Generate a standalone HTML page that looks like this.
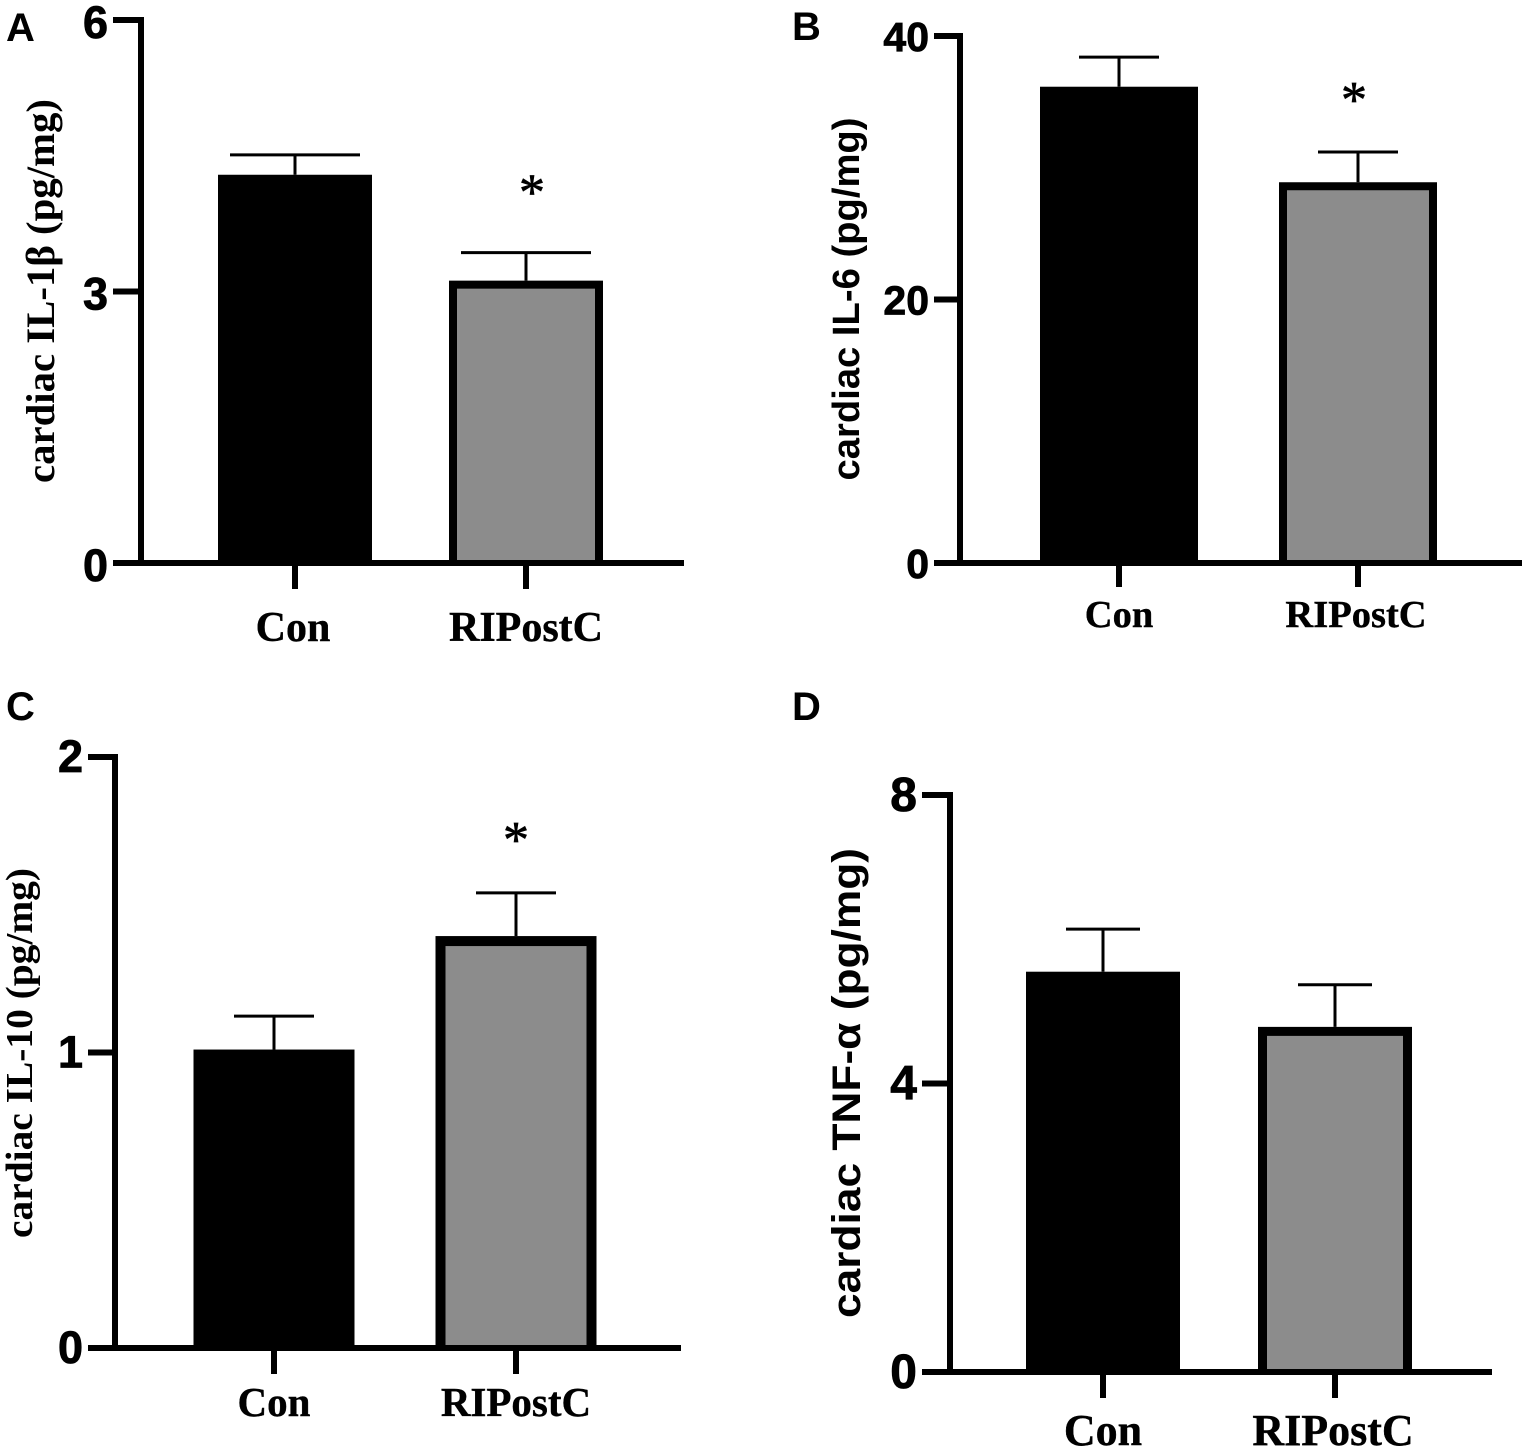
<!DOCTYPE html>
<html lang="en">
<head>
<meta charset="utf-8">
<title>Cardiac cytokine bar charts</title>
<style>
html,body{margin:0;padding:0;background:#fff;}
svg{display:block;}
.serif{font-family:"Liberation Serif",serif;font-weight:bold;}
.sans{font-family:"Liberation Sans",sans-serif;font-weight:bold;}
.heavy{stroke:#000;stroke-width:0.8px;}
.semi{stroke:#000;stroke-width:0.4px;}
.star{font-family:"Liberation Serif",serif;stroke:#000;stroke-width:0.7px;}
</style>
</head>
<body>
<svg id="figure" xmlns="http://www.w3.org/2000/svg" width="1525" height="1450" viewBox="0 0 1525 1450"></svg>
<script>
const categories = ['Con', 'RIPostC'];

const il1bMeans = [4.29, 3.12];
const il1bErrors = [0.22, 0.31];
const il1bTicks = [0, 3, 6];

const il6Means = [36.15, 28.9];
const il6Errors = [2.25, 2.3];
const il6Ticks = [0, 20, 40];

const il10Means = [1.01, 1.394];
const il10Errors = [0.113, 0.146];
const il10Ticks = [0, 1, 2];

const tnfMeans = [5.55, 4.785];
const tnfErrors = [0.59, 0.585];
const tnfTicks = [0, 4, 8];

const panels = [
  {id:'a', letter:'A', lx:6, ly:41, title:'cardiac IL-1β (pg/mg)', titleClass:'serif', titleX:54, titleMid:291, titleLen:384, titleSize:40,
   means:il1bMeans, errors:il1bErrors, ticks:il1bTicks, stars:[null, 69], sw:8,
   axisX:141, yTop:20, y0:563, xStart:113, xEnd:684, centers:[295, 526], barW:154, capHalf:65, catTick:26,
   labelY:641, labelSize:42, labelDx:[-2, 0], tickSize:45, tickDy:18},
  {id:'b', letter:'B', lx:792, ly:40, title:'cardiac IL-6 (pg/mg)', titleClass:'sans', titleX:859, titleMid:299, titleLen:363, titleSize:38,
   means:il6Means, errors:il6Errors, ticks:il6Ticks, stars:[null, 61], sw:8,
   axisX:960, yTop:36, y0:563, xStart:934, xEnd:1522, centers:[1119, 1358], barW:158, capHalf:40, catTick:24,
   labelY:627, labelSize:38.5, labelDx:[0, -2], tickSize:41, tickDy:15},
  {id:'c', letter:'C', lx:6, ly:720, title:'cardiac IL-10 (pg/mg)', titleClass:'serif', titleX:32, titleMid:1053, titleLen:370, titleSize:38,
   means:il10Means, errors:il10Errors, ticks:il10Ticks, stars:[null, 62], sw:10,
   axisX:115, yTop:757, y0:1348, xStart:88, xEnd:681, centers:[274, 516], barW:161, capHalf:40, catTick:26,
   labelY:1416, labelSize:41, labelDx:[0, 0], tickSize:45, tickDy:15},
  {id:'d', letter:'D', lx:792, ly:720, title:'cardiac TNF-α (pg/mg)', titleClass:'sans', titleX:860, titleMid:1083, titleLen:470, titleSize:40,
   means:tnfMeans, errors:tnfErrors, ticks:tnfTicks, stars:[null, null], sw:9,
   axisX:950, yTop:795, y0:1372, xStart:922, xEnd:1492, centers:[1103, 1335], barW:154, capHalf:37, catTick:26,
   labelY:1445, labelSize:44, labelDx:[0, -2], tickSize:48, tickDy:16}
];

const NS = 'http://www.w3.org/2000/svg';
const root = document.getElementById('figure');

function make(tag, attrs, parent, text) {
  const node = document.createElementNS(NS, tag);
  for (const k in attrs) node.setAttribute(k, attrs[k]);
  if (text !== undefined) node.textContent = text;
  parent.appendChild(node);
  return node;
}

panels.forEach(function (p) {
  const maxTick = p.ticks[p.ticks.length - 1];
  const yScale = function (v) { return p.y0 + (p.yTop - p.y0) * v / maxTick; };

  const g = make('g', {}, root);
  
  

  const letter = make('text', {x:p.lx, y:p.ly, 'font-size':40, class:'sans', fill:'#000'}, g, p.letter);
  
  

  // bars and error bars
  p.means.forEach(function (m, i) {
    const cx = p.centers[i];
    const top = yScale(m);
    const errTop = yScale(m + p.errors[i]);

    const stem = make('line', {x1:cx, x2:cx, y1:errTop, y2:top, stroke:'#000', 'stroke-width':3}, g);
    
    

    const cap = make('line', {x1:cx - p.capHalf, x2:cx + p.capHalf, y1:errTop, y2:errTop, stroke:'#000', 'stroke-width':3}, g);
    
    

    const bar = make('rect', {x:cx - p.barW / 2, y:top, width:p.barW, height:p.y0 - top, fill:'#000'}, g);
    
    

    if (i === 1) {
      const inner = make('rect', {x:cx - p.barW / 2 + p.sw, y:top + p.sw, width:p.barW - 2 * p.sw, height:p.y0 - top - p.sw, fill:'#8c8c8c'}, g);
      
      
    }

    if (p.stars[i] !== null) {
      const star = make('text', {x:cx + (p.id === 'a' ? 6 : p.id === 'b' ? -4 : 0), y:errTop - p.stars[i] + 26, 'font-size':52, 'text-anchor':'middle', fill:'#000', class:'star'}, g, '*');
      
      
    }

    const tick = make('line', {x1:cx, x2:cx, y1:p.y0, y2:p.y0 + p.catTick, stroke:'#000', 'stroke-width':6}, g);
    
    

    const lab = make('text', {x:cx + p.labelDx[i], y:p.labelY, 'font-size':p.labelSize, 'text-anchor':'middle', class:'serif semi', fill:'#000'}, g, categories[i]);
    
    
  });

  // axes
  const yAxis = make('line', {x1:p.axisX, x2:p.axisX, y1:p.yTop - 3, y2:p.y0 + 3, stroke:'#000', 'stroke-width':6}, g);
  
  

  const xAxis = make('line', {x1:p.xStart, x2:p.xEnd, y1:p.y0, y2:p.y0, stroke:'#000', 'stroke-width':6}, g);
  
  

  p.ticks.forEach(function (t) {
    const y = yScale(t);
    const tick = make('line', {x1:p.xStart, x2:p.axisX, y1:y, y2:y, stroke:'#000', 'stroke-width':6}, g);
    
    

    const lab = make('text', {x:p.xStart - 5, y:y + p.tickDy, 'font-size':p.tickSize, 'text-anchor':'end', class:'sans heavy', fill:'#000'}, g, String(t));
    
    
  });

  const title = make('text', {
    transform:'translate(' + p.titleX + ',' + p.titleMid + ') rotate(-90)',
    'font-size':p.titleSize, 'text-anchor':'middle', class:p.titleClass, fill:'#000',
    textLength:p.titleLen, lengthAdjust:'spacingAndGlyphs'
  }, g, p.title);
  
  
});
</script>
</body>
</html>
